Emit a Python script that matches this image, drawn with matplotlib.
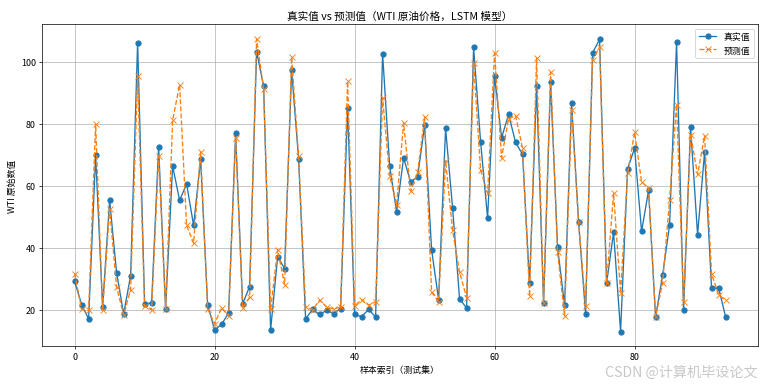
import matplotlib
matplotlib.use("Agg")
import matplotlib.pyplot as plt
import numpy as np

plt.rcParams["font.family"] = ["Noto Sans CJK SC", "DejaVu Sans"]
plt.rcParams["axes.unicode_minus"] = False

# 真实值 (true values)
y_true = [
    29.2, 21.7, 17.1, 69.8, 20.9, 55.3, 31.9, 18.7, 31.0, 106.2,
    21.9, 22.2, 72.6, 20.4, 66.4, 55.3, 60.6, 47.2, 68.6, 21.7,
    13.5, 15.3, 19.0, 76.9, 21.9, 27.5, 103.3, 92.2, 13.5, 37.1,
    33.3, 97.2, 68.6, 17.1, 20.1, 18.5, 19.8, 18.8, 20.4, 85.1,
    18.5, 17.8, 20.1, 17.7, 102.6, 66.5, 51.7, 69.0, 61.3, 62.9,
    79.5, 39.4, 23.3, 78.5, 52.8, 23.5, 20.6, 104.7, 74.2, 49.6,
    95.4, 75.5, 83.0, 74.0, 70.1, 28.5, 92.1, 22.2, 93.5, 40.1,
    21.5, 86.7, 48.3, 18.7, 102.9, 107.2, 28.5, 45.0, 13.0, 65.4,
    72.1, 45.3, 58.5, 17.7, 31.1, 47.4, 106.3, 19.9, 79.0, 44.2,
    70.8, 26.9, 27.1, 17.8,
]

# 预测值 (LSTM predictions)
y_pred = [
    31.7, 20.1, 19.8, 79.8, 20.0, 52.4, 27.4, 18.3, 26.5, 95.4,
    21.2, 20.0, 69.6, 20.4, 81.1, 92.6, 47.2, 41.5, 71.0, 20.3,
    15.5, 20.6, 18.0, 75.5, 20.6, 24.1, 107.4, 91.3, 20.1, 39.4,
    28.1, 101.5, 69.6, 20.9, 20.0, 23.1, 20.9, 20.3, 20.9, 93.7,
    21.2, 23.3, 21.5, 22.6, 88.4, 63.3, 53.8, 80.3, 58.3, 64.3,
    82.2, 25.7, 22.6, 68.0, 45.6, 32.1, 23.9, 99.6, 65.1, 57.6,
    102.8, 69.0, 81.7, 82.6, 72.1, 24.4, 101.2, 22.2, 96.7, 38.6,
    18.0, 84.4, 48.3, 21.2, 100.7, 104.7, 28.5, 57.6, 25.5, 64.0,
    77.2, 61.3, 59.2, 17.7, 28.7, 55.4, 86.2, 22.5, 76.5, 63.7,
    76.1, 31.6, 24.9, 23.1,
]

idx = np.arange(len(y_true))

fig, ax = plt.subplots(figsize=(12, 6.07), dpi=63.75)
fig.subplots_adjust(left=0.055, right=0.991, top=0.935, bottom=0.103)

ax.plot(idx, y_true, marker="o", label="真实值")
ax.plot(idx, y_pred, marker="x", linestyle="--", label="预测值")

ax.set_title("真实值 vs 预测值（WTI 原油价格，LSTM 模型）")
ax.set_xlabel("样本索引（测试集）")
ax.set_ylabel("WTI 原始数值")
ax.legend(loc="upper right")
ax.grid(True)

# watermark from the screenshot
fig.text(0.99, 0.036, "CSDN @计算机毕设论文", ha="right", va="center",
         fontsize=16, color="#c8c8c8")

fig.savefig("out.png", dpi=63.75)
